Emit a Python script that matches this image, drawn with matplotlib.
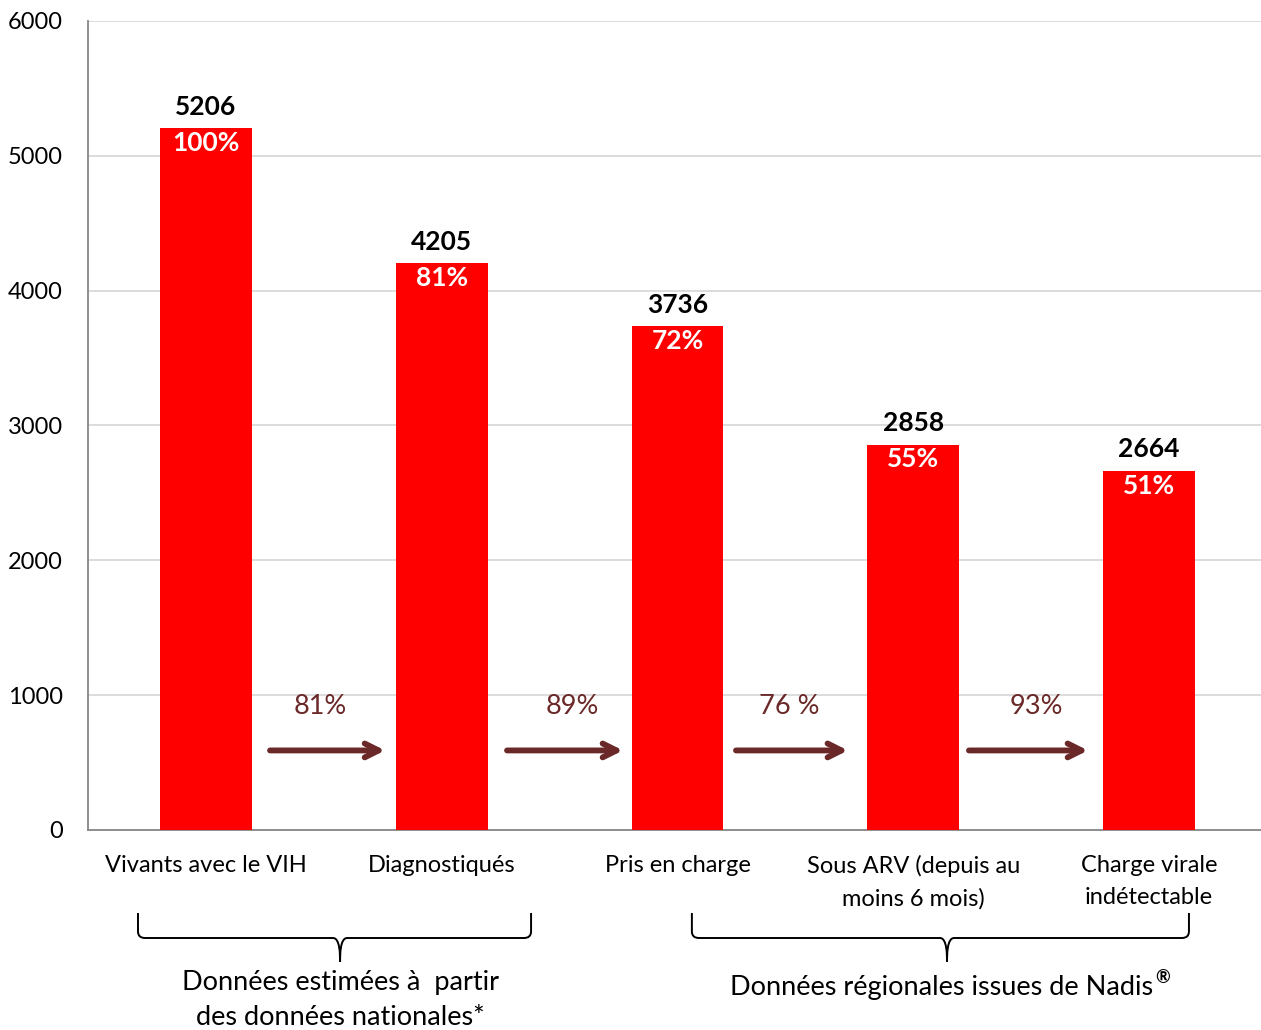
import matplotlib.pyplot as plt
import numpy as np
from matplotlib.path import Path
from matplotlib.patches import PathPatch
import matplotlib.transforms as mtransforms

plt.rcParams['font.family'] = ['Lato', 'DejaVu Sans']

categories = ["Vivants avec le VIH", "Diagnostiqués", "Pris en charge",
              "Sous ARV (depuis au\nmoins 6 mois)", "Charge virale\nindétectable"]
counts = [5206, 4205, 3736, 2858, 2664]
pct_of_total = ["100%", "81%", "72%", "55%", "51%"]
step_rates = ["81%", "89%", "76 %", "93%"]
yticks = [0, 1000, 2000, 3000, 4000, 5000, 6000]

bar_red = "#ff0000"
arrow_col = "#6b2828"

fig = plt.figure(figsize=(12.61, 10.30), dpi=100)
ax = fig.add_axes([88 / 1261, 1 - 830 / 1030, 1179 / 1261, (830 - 21) / 1030])

x = np.arange(len(categories))
bars = ax.bar(x, counts, width=0.39, color=bar_red, zorder=3)

ax.set_xlim(-0.5, len(categories) - 0.5)
ax.set_ylim(0, 6000)
ax.set_yticks(yticks)
ax.set_yticklabels([str(v) for v in yticks], fontsize=17)
ax.tick_params(axis='y', length=0, pad=18)
ax.set_xticks(x)
ax.set_xticklabels(categories, fontsize=17, linespacing=1.65)
ax.tick_params(axis='x', length=0, pad=18)
ax.yaxis.grid(True, color="#d9d9d9", linewidth=1.3, zorder=0)
for s in ("top", "right"):
    ax.spines[s].set_visible(False)
ax.spines["left"].set_color("#868686")
ax.spines["bottom"].set_color("#868686")
ax.spines["left"].set_linewidth(1.3)
ax.spines["bottom"].set_linewidth(1.3)

# value above each bar, share of total just inside the top
for xi, v, p in zip(x, counts, pct_of_total):
    ax.text(xi, v + 70, str(v), ha='center', va='bottom', fontsize=19,
            fontweight='bold', color='black')
    ax.text(xi, v - 110, p, ha='center', va='center', fontsize=19,
            fontweight='bold', color='white', zorder=4)

# conversion arrows between consecutive steps
arrow_starts = [0.272, 1.277, 2.248, 3.236]
arrow_ends = [0.760, 1.769, 2.723, 3.741]
label_x = [0.484, 1.553, 2.473, 3.520]
for x0, x1, lx, r in zip(arrow_starts, arrow_ends, label_x, step_rates):
    ax.annotate("", xy=(x1, 590), xytext=(x0, 590),
                arrowprops=dict(arrowstyle="->,head_length=1.0,head_width=0.5",
                                color=arrow_col, lw=4.2, capstyle='round',
                                joinstyle='round', shrinkA=0, shrinkB=0),
                zorder=5)
    ax.text(lx, 915, r, ha='center', va='center', fontsize=19.5, color=arrow_col)

# curly braces under the category labels
trans = mtransforms.blended_transform_factory(ax.transData, ax.transAxes)


def brace(x0, x1, xm):
    top = (830 - 913) / 809
    mid = (830 - 938) / 809
    tip = (830 - 962) / 809
    r = 0.03
    dy = 0.008
    verts = [
        (x0, top), (x0, mid + dy), (x0, mid), (x0 + r, mid),
        (xm - r, mid), (xm, mid), (xm, tip + (mid - tip) * 0.3), (xm, tip),
        (xm, tip + (mid - tip) * 0.3), (xm, mid), (xm + r, mid),
        (x1 - r, mid), (x1, mid), (x1, mid + dy), (x1, top),
    ]
    codes = [Path.MOVETO, Path.LINETO, Path.CURVE3, Path.CURVE3,
             Path.LINETO, Path.CURVE4, Path.CURVE4, Path.CURVE4,
             Path.CURVE4, Path.CURVE4, Path.CURVE4,
             Path.LINETO, Path.CURVE3, Path.CURVE3, Path.LINETO]
    patch = PathPatch(Path(verts, codes), transform=trans, fill=False,
                      edgecolor='black', lw=1.4, clip_on=False)
    ax.add_patch(patch)


brace(-0.288, 1.379, 0.569)
brace(2.061, 4.169, 3.143)

fig.text(340 / 1261, 1 - 1000 / 1030, "Données estimées à  partir\ndes données nationales*",
         ha='center', va='center', fontsize=19.5, linespacing=1.5)
nadis = fig.text(942 / 1261, 1 - 987 / 1030, "Données régionales issues de Nadis",
                 ha='center', va='center', fontsize=19.5)
ax.annotate("®", xy=(1, 1), xycoords=nadis, xytext=(1, -2),
            textcoords='offset points', ha='left', va='center',
            fontsize=13, fontweight='bold')

fig.savefig("out.png", dpi=100)
